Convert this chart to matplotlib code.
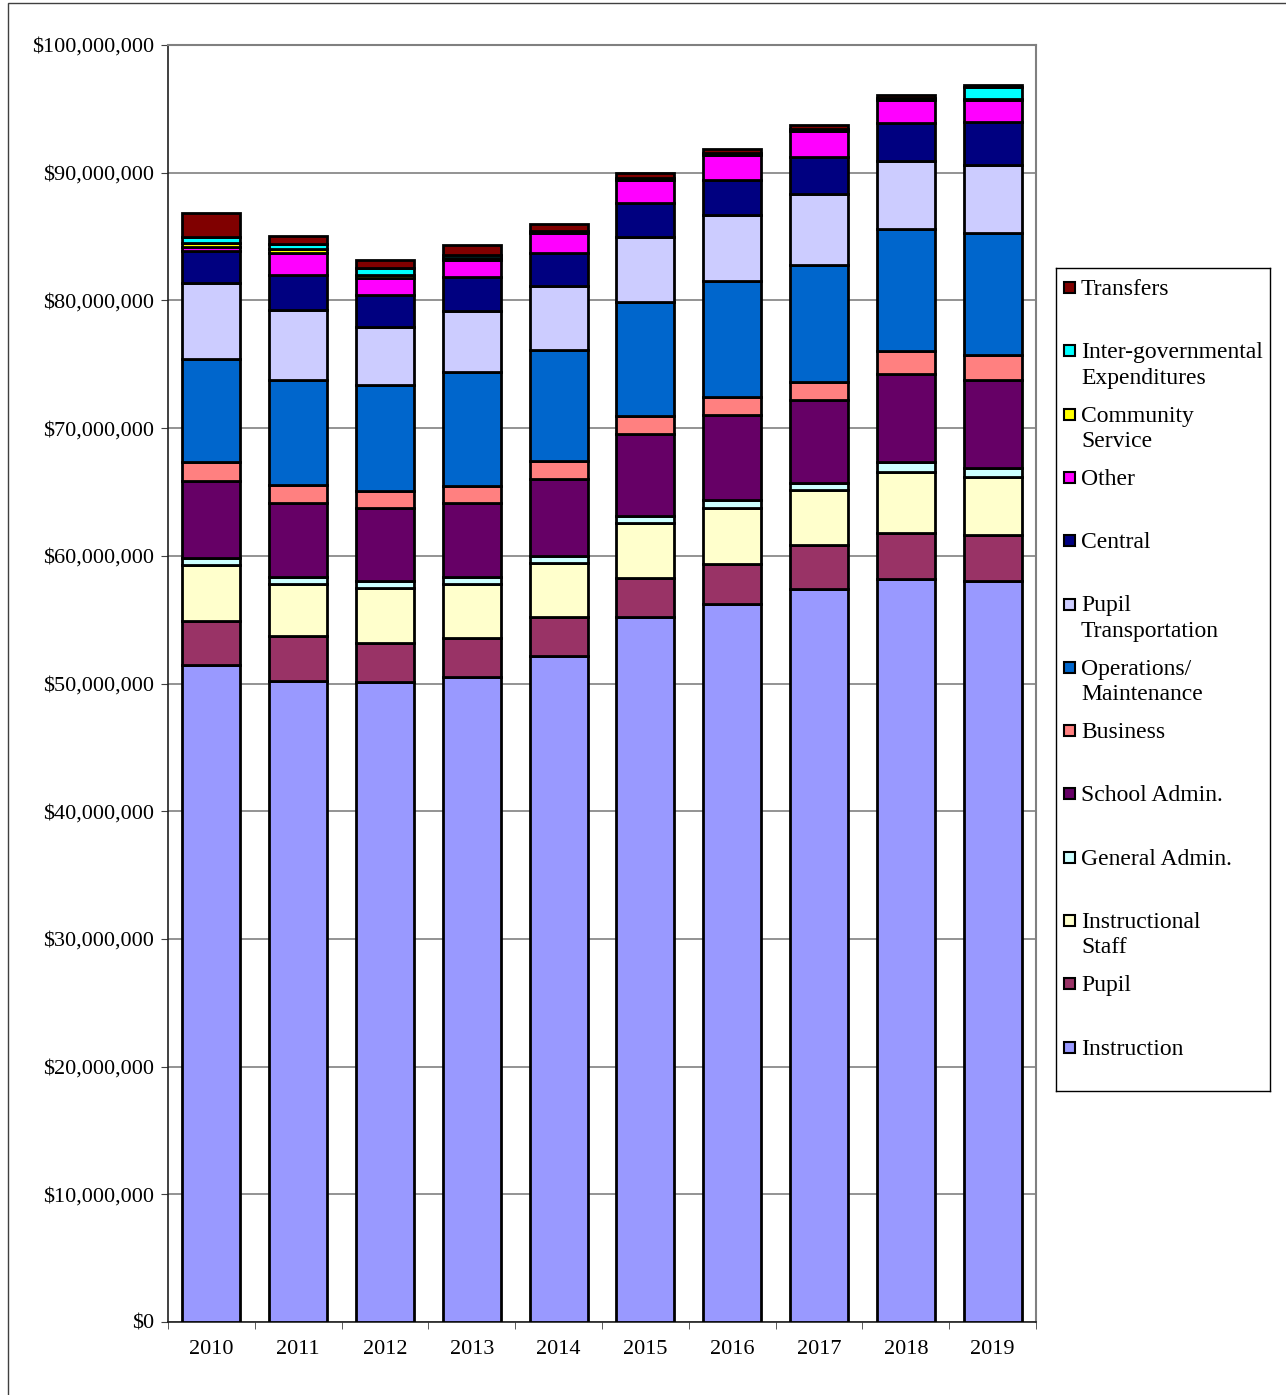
import matplotlib
matplotlib.use("Agg")
import matplotlib.pyplot as plt
from matplotlib.patches import Rectangle
from matplotlib.ticker import FuncFormatter, FixedLocator
import numpy as np

plt.rcParams['font.family'] = ['Liberation Serif', 'DejaVu Serif']

years = ['2010', '2011', '2012', '2013', '2014', '2015', '2016', '2017', '2018', '2019']

# valores en millones de dolares, de abajo hacia arriba
instruction = [51.45, 50.2, 50.1, 50.5, 52.15, 55.2, 56.2, 57.4, 58.2, 58.0]
pupil = [3.45, 3.5, 3.1, 3.1, 3.05, 3.1, 3.15, 3.45, 3.6, 3.6]
instr_staff = [4.4, 4.1, 4.3, 4.2, 4.2, 4.3, 4.4, 4.3, 4.75, 4.55]
gen_admin = [0.55, 0.55, 0.55, 0.55, 0.55, 0.55, 0.6, 0.55, 0.8, 0.75]
school_admin = [6.0, 5.8, 5.7, 5.8, 6.1, 6.4, 6.65, 6.5, 6.9, 6.9]
business = [1.5, 1.4, 1.35, 1.35, 1.35, 1.4, 1.4, 1.4, 1.8, 1.9]
operations = [8.1, 8.2, 8.3, 8.9, 8.7, 8.95, 9.15, 9.2, 9.55, 9.6]
pupil_trans = [5.9, 5.5, 4.5, 4.8, 5.0, 5.1, 5.15, 5.55, 5.35, 5.3]
central = [2.5, 2.7, 2.5, 2.6, 2.65, 2.65, 2.75, 2.9, 2.95, 3.35]
other = [0.35, 1.8, 1.35, 1.35, 1.55, 1.75, 1.95, 2.05, 1.8, 1.75]
community = [0.3, 0.25, 0.25, 0.15, 0.05, 0.05, 0.05, 0.05, 0.05, 0.1]
intergov = [0.45, 0.45, 0.5, 0.25, 0.1, 0.1, 0.1, 0.1, 0.1, 0.95]
transfers = [1.9, 0.6, 0.7, 0.75, 0.5, 0.4, 0.3, 0.3, 0.2, 0.15]

series = [
    ("Instruction", instruction, "#9999FF"),
    ("Pupil", pupil, "#993366"),
    ("Instructional\nStaff", instr_staff, "#FFFFCC"),
    ("General Admin.", gen_admin, "#CCFFFF"),
    ("School Admin.", school_admin, "#660066"),
    ("Business", business, "#FF8080"),
    ("Operations/\nMaintenance", operations, "#0066CC"),
    ("Pupil\nTransportation", pupil_trans, "#CCCCFF"),
    ("Central", central, "#000080"),
    ("Other", other, "#FF00FF"),
    ("Community\nService", community, "#FFFF00"),
    ("Inter-governmental\nExpenditures", intergov, "#00FFFF"),
    ("Transfers", transfers, "#800000"),
]

W, H = 1286, 1395
fig = plt.figure(figsize=(W / 100, H / 100), dpi=100)
fig.patches.append(Rectangle((8 / W, -0.1), 1.2, 1.1 - 3 / H, transform=fig.transFigure,
                             fill=False, edgecolor='#404040', linewidth=1))

ax = fig.add_axes([168 / W, (H - 1322) / H, 868 / W, 1277 / H])
x = np.arange(len(years))
bottom = np.zeros(len(years))
for nombre, vals, color in series:
    v = np.array(vals) * 1e6
    ax.bar(x, v, width=0.67, bottom=bottom, color=color, edgecolor='black',
           linewidth=2, zorder=3)
    bottom += v

ax.set_xlim(-0.5, len(years) - 0.5)
ax.set_ylim(0, 100e6)
ax.set_yticks(np.arange(0, 100e6 + 1, 10e6))
ax.yaxis.set_major_formatter(FuncFormatter(lambda v, p: "${:,.0f}".format(v)))
ax.yaxis.grid(True, color='#808080', linewidth=1.2, zorder=0)
ax.set_xticks(x)
ax.set_xticklabels(years)
ax.xaxis.set_minor_locator(FixedLocator(np.arange(-0.5, len(years), 1)))
ax.tick_params(axis='x', which='major', length=0, labelsize=16, pad=13)
ax.tick_params(axis='x', which='minor', length=5, direction='out', color='#404040')
ax.tick_params(axis='y', length=5, direction='out', labelsize=16, pad=5, color='#404040')
for lado in ['top', 'right']:
    ax.spines[lado].set_color('#808080')
    ax.spines[lado].set_linewidth(1.5)
for lado in ['left', 'bottom']:
    ax.spines[lado].set_color('#202020')
    ax.spines[lado].set_linewidth(1.2)

# leyenda dibujada a mano
lx0, ly0, lx1, ly1 = 1056, 268, 1270, 1091
lax = fig.add_axes([lx0 / W, (H - ly1) / H, (lx1 - lx0) / W, (ly1 - ly0) / H])
lax.set_xlim(0, lx1 - lx0)
lax.set_ylim(ly1 - ly0, 0)
lax.set_xticks([])
lax.set_yticks([])
for s in lax.spines.values():
    s.set_color('black')
    s.set_linewidth(1)
for i, (nombre, vals, color) in enumerate(series[::-1]):
    yc = 288 - ly0 + i * 63.3
    lax.add_patch(Rectangle((8, yc - 6), 11, 11, facecolor=color, edgecolor='black', linewidth=1.5))
    lax.text(25, yc - 9, nombre, fontsize=17, va='top', ha='left', linespacing=1.28)

fig.savefig("out.png", dpi=100)
